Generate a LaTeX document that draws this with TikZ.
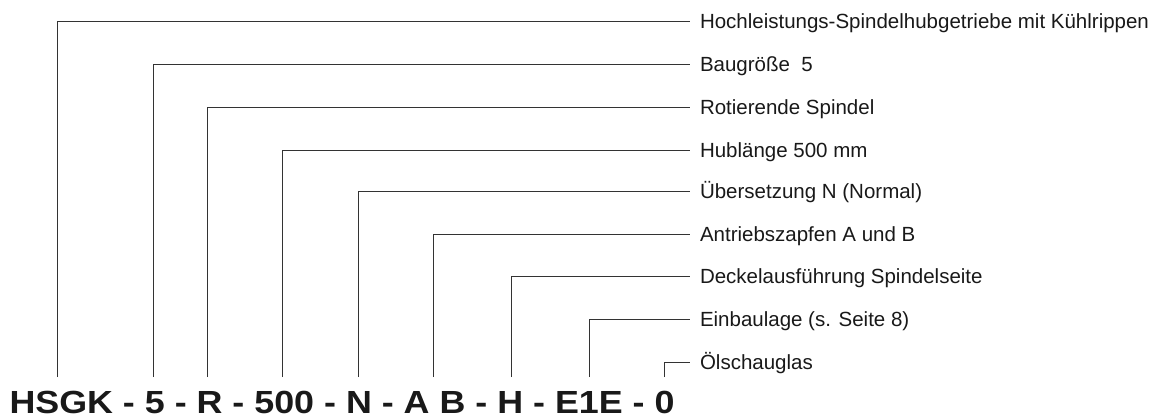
\documentclass[tikz,border=0pt]{standalone}
\usepackage{fontspec}
\setmainfont{Liberation Sans}
\usepackage{tikz}
\usetikzlibrary{positioning,calc}

\begin{document}
\begin{tikzpicture}[
    x=1pt, y=-1pt,
    every node/.style={inner sep=0pt, outer sep=0pt},
    desc/.style={anchor=west, text height=14.7pt, text depth=0pt, font=\fontsize{20.5}{24}\selectfont, text=black!90},
    code/.style={anchor=base west, font=\fontsize{32}{36}\selectfont\bfseries, text=black!90},
    leader/.style={draw=black!80, line width=0.9pt}
]
    \useasboundingbox (0,0) rectangle (1157,418);

    % Type code
    \node[code] (typecode) at (9.5,413) {\scalebox{1.12}[1]{HSGK - 5 - R - 500 - N - A B - H - E1E - 0}};

    % Feet of the leaders
    \coordinate (fHSGK) at (57,377);
    \coordinate (fSize) at (153,377);
    \coordinate (fRot)  at (207,377);
    \coordinate (fHub)  at (282,377);
    \coordinate (fUeb)  at (358,377);
    \coordinate (fZapf) at (433,377);
    \coordinate (fDeck) at (511,377);
    \coordinate (fLage) at (589,377);
    \coordinate (fOel)  at (664,377);

    % Descriptions
    \node[desc] (dHSGK) at (700,21.5)  {Hochleistungs-Spindelhubgetriebe mit Kühlrippen};
    \node[desc] (dSize) at (700,64)    {Baugröße~~5};
    \node[desc] (dRot)  at (700,107)   {Rotierende Spindel};
    \node[desc] (dHub)  at (700,150)   {Hublänge 500 mm};
    \node[desc] (dUeb)  at (700,191.5) {Übersetzung N (Normal)};
    \node[desc] (dZapf) at (700,234)   {Antriebszapfen A und B};
    \node[desc] (dDeck) at (700,276.5) {Deckelausführung Spindelseite};
    \node[desc] (dLage) at (700,319)   {Einbaulage (s. Seite 8)};
    \node[desc] (dOel)  at (700,362.5) {Ölschauglas};

    % Leaders
    \draw[leader] (fHSGK) |- ([xshift=-10pt]dHSGK.west);
    \draw[leader] (fSize) |- ([xshift=-10pt]dSize.west);
    \draw[leader] (fRot)  |- ([xshift=-10pt]dRot.west);
    \draw[leader] (fHub)  |- ([xshift=-10pt]dHub.west);
    \draw[leader] (fUeb)  |- ([xshift=-10pt]dUeb.west);
    \draw[leader] (fZapf) |- ([xshift=-10pt]dZapf.west);
    \draw[leader] (fDeck) |- ([xshift=-10pt]dDeck.west);
    \draw[leader] (fLage) |- ([xshift=-10pt]dLage.west);
    \draw[leader] (fOel)  |- ([xshift=-10pt]dOel.west);
\end{tikzpicture}
\end{document}
